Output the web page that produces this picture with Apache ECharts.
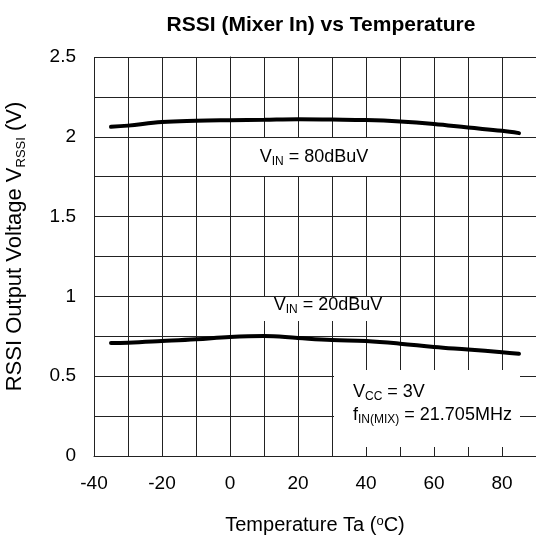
<!DOCTYPE html>
<html>
<head>
<meta charset="utf-8">
<script src="https://cdn.jsdelivr.net/npm/echarts@6/dist/echarts.min.js"></script>
<style>html,body{margin:0;padding:0;background:#fff}#c{width:536px;height:542px}</style>
</head>
<body>
<div id="c"></div>
<script>
var temps = [-35, -30, -20, -10, 0, 10, 20, 30, 40, 50, 60, 70, 80, 85];
var rssi80 = [2.0625, 2.07, 2.092, 2.10, 2.104, 2.107, 2.11, 2.108, 2.105, 2.096, 2.08, 2.058, 2.0375, 2.023];
var rssi20 = [0.708, 0.71, 0.72, 0.731, 0.746, 0.752, 0.739, 0.727, 0.72, 0.704, 0.683, 0.667, 0.65, 0.64];
var xTicks = [-40, -20, 0, 20, 40, 60, 80];
var yTicks = [0, 0.5, 1, 1.5, 2, 2.5];

function pairs(xs, ys) { return xs.map(function (x, i) { return [x, ys[i]]; }); }

var FONT = 'Liberation Sans, Arial, sans-serif';
var chart = echarts.init(document.getElementById('c'), null, {renderer: 'canvas'});
var gridCol = '#222';
var subStyle = {fontSize: 12, lineHeight: 12, verticalAlign: 'bottom', fontFamily: FONT, fill: '#000'};
chart.setOption({
  animation: false,
  backgroundColor: '#fff',
  title: {
    text: 'RSSI (Mixer In) vs Temperature',
    left: 316, top: 10, textAlign: 'center',
    textStyle: {fontFamily: FONT, fontWeight: 'bold', fontSize: 21, color: '#000'}
  },
  grid: {left: 94, top: 57, right: 0, bottom: 86, containLabel: false, outerBoundsMode: 'none'},
  xAxis: {
    type: 'value', min: -40, max: 90, interval: 10,
    name: 'Temperature Ta ({sup|o}C)', nameLocation: 'middle', nameGap: 59, nameMoveOverlap: false,
    nameTextStyle: {fontFamily: FONT, fontSize: 20, color: '#000',
      rich: {sup: {fontSize: 13, verticalAlign: 'top', fontFamily: FONT, color: '#000'}}},
    axisLine: {show: true, lineStyle: {color: gridCol, width: 1}},
    axisTick: {show: false},
    splitLine: {show: true, lineStyle: {color: gridCol, width: 1}},
    axisLabel: {fontFamily: FONT, fontSize: 19, color: '#000', margin: 18,
      formatter: function (v) { return xTicks.indexOf(v) >= 0 ? String(v) : ''; }}
  },
  yAxis: {
    type: 'value', min: 0, max: 2.5, interval: 0.25,
    name: 'RSSI Output Voltage V{sub|RSSI} (V)', nameLocation: 'middle', nameGap: 66, nameMoveOverlap: false,
    nameTextStyle: {fontFamily: FONT, fontSize: 22, color: '#000', lineHeight: 26, padding: [0, 0, 0, 20],
      rich: {sub: {fontSize: 13, lineHeight: 12, verticalAlign: 'bottom', fontFamily: FONT, color: '#000'}}},
    axisLine: {show: true, lineStyle: {color: gridCol, width: 1}},
    axisTick: {show: false},
    splitLine: {show: true, lineStyle: {color: gridCol, width: 1}},
    axisLabel: {fontFamily: FONT, fontSize: 19, color: '#000', margin: 18,
      formatter: function (v) {
        for (var i = 0; i < yTicks.length; i++) { if (Math.abs(yTicks[i] - v) < 1e-9) return String(yTicks[i]); }
        return '';
      }}
  },
  series: [
    {type: 'line', data: pairs(temps, rssi80), smooth: 0.4, showSymbol: false,
      lineStyle: {color: '#000', width: 4, cap: 'round'}, z: 3},
    {type: 'line', data: pairs(temps, rssi20), smooth: 0.4, showSymbol: false,
      lineStyle: {color: '#000', width: 4, cap: 'round'}, z: 3}
  ],
  graphic: [
    {type: 'rect', z: 10, shape: {x: 241, y: 138, width: 139, height: 38}, style: {fill: '#fff'}},
    {type: 'text', z: 11, x: 314, y: 157, style: {
      text: 'V{sub|IN} = 80dBuV', fontFamily: FONT, fontSize: 18, fill: '#000',
      align: 'center', verticalAlign: 'middle', lineHeight: 22, rich: {sub: subStyle}}},
    {type: 'rect', z: 10, shape: {x: 253, y: 297, width: 142, height: 24}, style: {fill: '#fff'}},
    {type: 'text', z: 11, x: 328, y: 305, style: {
      text: 'V{sub|IN} = 20dBuV', fontFamily: FONT, fontSize: 18, fill: '#000',
      align: 'center', verticalAlign: 'middle', lineHeight: 22, rich: {sub: subStyle}}},
    {type: 'rect', z: 10, shape: {x: 334, y: 370, width: 186, height: 77}, style: {fill: '#fff'}},
    {type: 'text', z: 11, x: 353, y: 392, style: {
      text: 'V{sub|CC} = 3V', fontFamily: FONT, fontSize: 18, fill: '#000',
      align: 'left', verticalAlign: 'middle', lineHeight: 22, rich: {sub: subStyle}}},
    {type: 'text', z: 11, x: 353, y: 415, style: {
      text: 'f{sub|IN(MIX)} = 21.705MHz', fontFamily: FONT, fontSize: 18, fill: '#000',
      align: 'left', verticalAlign: 'middle', lineHeight: 22, rich: {sub: subStyle}}}
  ]
});
</script>
</body>
</html>
